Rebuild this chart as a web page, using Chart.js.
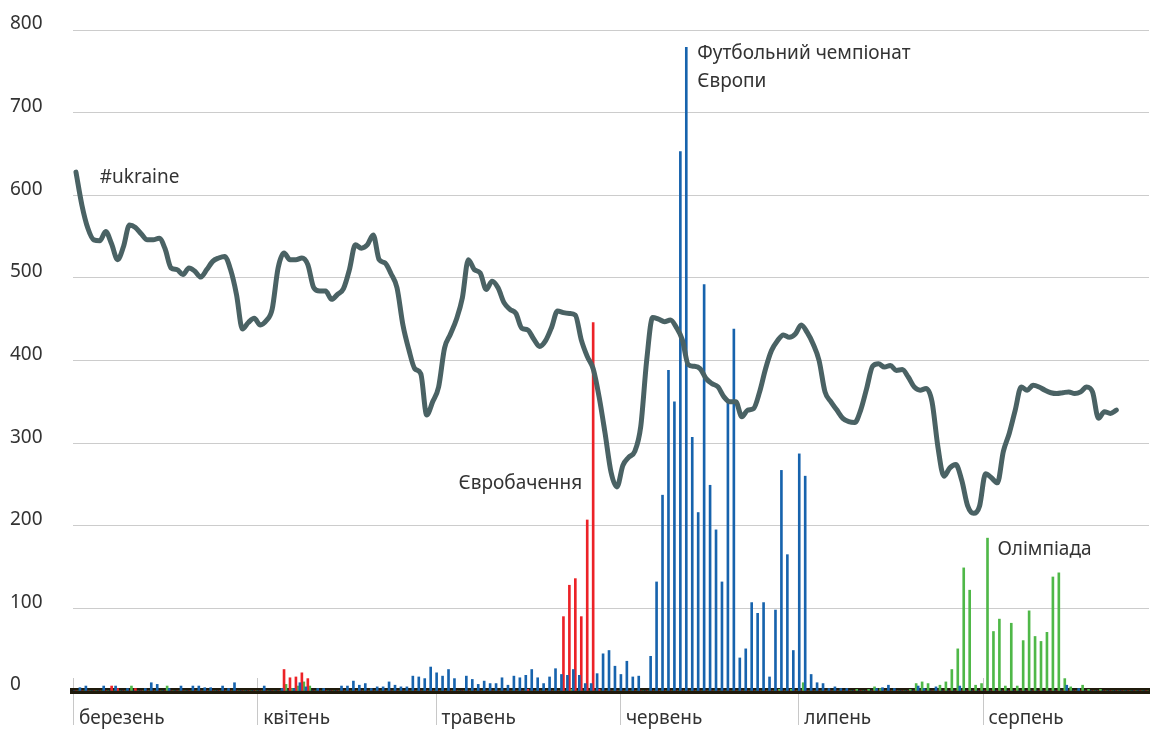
<!DOCTYPE html>
<html>
<head>
<meta charset="utf-8">
<script src="https://cdn.jsdelivr.net/npm/chart.js@4.4.1/dist/chart.umd.min.js"></script>
<style>
    html, body { margin: 0; padding: 0; background: #ffffff; }
    #stat-ukraine { display: block; }
</style>
</head>
<body>
<canvas id="stat-ukraine" width="1150" height="729"></canvas>
<script>
// DATA  -----------------------------------------------------------------------

const monthNames = ['березень', 'квітень', 'травень', 'червень', 'липень', 'серпень'];
const monthDays = [31, 30, 31, 30, 31, 28];
const yTicks = [0, 100, 200, 300, 400, 500, 600, 700, 800];

// daily mentions of #ukraine (smoothed line)
const ukraineLine = [
    628, 588, 560, 546, 545, 556, 541, 522, 538, 564,
    561, 553, 546, 546, 548, 535, 512, 510, 504, 512,
    508, 501, 510, 520, 524, 526, 510, 480, 438, 446,
    451, 443, 448, 462, 512, 530, 522, 522, 524, 516,
    488, 484, 484, 474, 480, 487, 510, 540, 536, 540,
    552, 522, 518, 505, 488, 443, 413, 390, 384, 334,
    350, 368, 415, 432, 450, 476, 522, 510, 506, 486,
    496, 488, 470, 462, 457, 439, 437, 426, 417, 424,
    440, 460, 458, 457, 455, 425, 405, 390, 356, 312,
    265, 247, 273, 283, 290, 320, 400, 452, 450, 447,
    449, 440, 425, 395, 393, 390, 378, 372, 368, 356,
    350, 350, 332, 340, 342, 362, 390, 412, 424, 431,
    428, 432, 443, 434, 420, 400, 362, 350, 340, 330,
    326, 325, 340, 366, 393, 396, 392, 394, 388, 389,
    380, 368, 364, 366, 350, 295, 260, 270, 274, 255,
    224, 215, 224, 263, 258, 252, 290, 312, 340, 368,
    364, 370, 368, 364, 361, 360, 361, 362, 360, 362,
    368, 362, 330, 338, 336, 340, null, null, null, null,
    null
];

// football championship (Euro 2012)
const footballBars = [
    0, 4, 6, 0, 0, 6, 0, 6, 0, 3,
    0, 0, 3, 10, 8, 0, 3, 0, 6, 0,
    6, 6, 4, 4, 0, 6, 3, 10, 0, 0,
    0, 0, 6, 0, 0, 3, 0, 3, 10, 5,
    0, 3, 3, 0, 0, 6, 6, 12, 7, 9,
    3, 5, 5, 11, 7, 5, 5, 18, 17, 15,
    29, 22, 18, 26, 15, 0, 18, 14, 8, 12,
    9, 9, 16, 7, 18, 16, 19, 26, 16, 9,
    17, 27, 20, 19, 26, 19, 9, 9, 21, 45,
    49, 30, 20, 36, 17, 18, 0, 42, 132, 237,
    388, 350, 653, 779, 307, 216, 492, 249, 195, 132,
    350, 438, 40, 51, 107, 94, 107, 17, 98, 267,
    165, 49, 287, 260, 20, 10, 9, 3, 5, 3,
    3, 0, 0, 0, 0, 3, 4, 7, 3, 0,
    0, 0, 6, 3, 0, 5, 0, 0, 0, 6,
    0, 0, 0, 0, 0, 0, 0, 0, 0, 0,
    0, 0, 0, 0, 0, 0, 0, 7, 0, 3,
    0, 0, 0, 0, 0, 0, 0, 0, 0, 0,
    0
];

// Eurovision
const eurovisionBars = [
    0, 0, 0, 0, 0, 0, 6, 3, 0, 0,
    3, 0, 0, 0, 0, 0, 0, 0, 0, 0,
    0, 0, 0, 0, 0, 0, 0, 0, 0, 0,
    0, 0, 0, 0, 0, 26, 16, 17, 22, 15,
    0, 0, 0, 0, 0, 0, 0, 0, 0, 0,
    0, 0, 0, 0, 0, 0, 0, 0, 0, 0,
    0, 0, 0, 0, 0, 0, 0, 0, 0, 0,
    0, 0, 0, 0, 0, 0, 2, 0, 0, 0,
    0, 0, 90, 128, 136, 90, 207, 446, 2, 0,
    0, 0, 0, 0, 0, 0, 0, 0, 0, 0,
    0, 0, 0, 0, 0, 0, 0, 0, 0, 0,
    0, 0, 0, 0, 0, 0, 0, 0, 0, 0,
    0, 0, 0, 0, 0, 0, 0, 0, 0, 0,
    0, 0, 0, 0, 0, 0, 0, 0, 0, 0,
    0, 0, 0, 0, 0, 0, 0, 0, 0, 0,
    0, 0, 0, 0, 0, 0, 0, 0, 0, 0,
    0, 0, 0, 0, 0, 0, 0, 0, 0, 0,
    0, 0, 0, 0, 0, 0, 0, 0, 0, 0,
    0
];

// Olympics
const olympicsBars = [
    0, 0, 0, 0, 0, 0, 0, 0, 0, 6,
    0, 0, 0, 0, 0, 6, 0, 0, 0, 0,
    0, 0, 0, 0, 0, 0, 0, 0, 0, 0,
    0, 0, 0, 0, 0, 8, 3, 6, 11, 6,
    0, 0, 0, 0, 0, 0, 0, 0, 0, 0,
    0, 0, 0, 0, 0, 0, 0, 0, 0, 0,
    0, 0, 0, 0, 0, 0, 0, 0, 0, 0,
    0, 0, 0, 0, 0, 0, 0, 0, 0, 0,
    0, 0, 0, 2, 0, 0, 0, 0, 0, 0,
    0, 0, 0, 0, 0, 0, 0, 0, 0, 0,
    0, 0, 0, 0, 0, 0, 0, 0, 0, 0,
    0, 0, 0, 0, 0, 0, 0, 0, 2, 0,
    2, 0, 10, 0, 0, 0, 0, 0, 0, 0,
    0, 2, 0, 2, 5, 3, 0, 0, 0, 0,
    2, 9, 11, 9, 0, 7, 11, 26, 51, 149,
    122, 7, 9, 185, 72, 87, 6, 82, 6, 61,
    97, 66, 60, 71, 138, 143, 15, 5, 0, 7,
    2, 0, 2, 0, 0, 0, 0, 0, 0, 0,
    0
];

// CHART SCRIPT  -----------------------------------------------------------------------

const textColor = '#333333';
const tickLineColor = '#c8c8c8';
const fontFamily = '"Noto Sans", "DejaVu Sans", sans-serif';

// one label per day, "1 березень" ...
const dayLabels = [];
monthNames.forEach((name, k) => {
    for (let d = 1; d <= monthDays[k]; d++) {
        dayLabels.push(d + ' ' + name);
    }
});

// text notes next to the peaks
const notes = [
    { lines: ['#ukraine'], day: 4, value: 621, dx: 0, align: 'left' },
    { lines: ['Футбольний чемпіонат', 'Європи'], day: 103, value: 772, dx: 9, align: 'left' },
    { lines: ['Євробачення'], day: 87, value: 251, dx: -11, align: 'right' },
    { lines: ['Олімпіада'], day: 153, value: 171, dx: 12, align: 'left' }
];

const notesPlugin = {
    id: 'notes',
    afterDatasetsDraw(chart) {
        const ctx = chart.ctx;
        const x = chart.scales.x;
        const y = chart.scales.y;
        ctx.save();
        ctx.fillStyle = textColor;
        ctx.font = '19px ' + fontFamily;
        ctx.textBaseline = 'middle';
        notes.forEach(note => {
            ctx.textAlign = note.align;
            const px = x.getPixelForValue(note.day) + note.dx;
            const py = y.getPixelForValue(note.value);
            note.lines.forEach((line, k) => ctx.fillText(line, px, py + k * 28));
        });
        ctx.restore();
    }
};

// month tick lines: start a little above the axis and run down past the labels
const monthTickPlugin = {
    id: 'monthTicks',
    beforeDatasetsDraw(chart) {
        const ctx = chart.ctx;
        const x = chart.scales.x;
        const bottom = chart.chartArea.bottom;
        const half = x.width / dayLabels.length / 2;
        ctx.save();
        ctx.strokeStyle = tickLineColor;
        ctx.lineWidth = 1;
        dayLabels.forEach((label, i) => {
            if (label.startsWith('1 ')) {
                const px = Math.round(x.getPixelForValue(i) - half) + 0.5;
                ctx.beginPath();
                ctx.moveTo(px, bottom - 13);
                ctx.lineTo(px, bottom - 3);
                ctx.moveTo(px, bottom + 3);
                ctx.lineTo(px, bottom + 34);
                ctx.stroke();
            }
        });
        ctx.restore();
    }
};

function initializeChart() {
    const canvas = document.getElementById('stat-ukraine');
    const ctx = canvas.getContext('2d');

    new Chart(ctx, {
        type: 'bar',
        data: {
            labels: dayLabels,
            datasets: [
                {
                    type: 'line',
                    label: '#ukraine',
                    data: ukraineLine,
                    borderColor: '#4a6264',
                    borderWidth: 5,
                    pointRadius: 0,
                    cubicInterpolationMode: 'monotone',
                    borderCapStyle: 'round',
                    borderJoinStyle: 'round',
                    order: 0
                },
                {
                    label: 'Футбольний чемпіонат Європи',
                    data: footballBars,
                    backgroundColor: '#1763ad',
                    order: 1
                },
                {
                    label: 'Євробачення',
                    data: eurovisionBars,
                    backgroundColor: '#ec2227',
                    order: 1
                },
                {
                    label: 'Олімпіада',
                    data: olympicsBars,
                    backgroundColor: '#4fb848',
                    order: 1
                }
            ]
        },
        options: {
            responsive: false,
            animation: false,
            layout: {
                padding: { top: 30, left: 10, right: 1, bottom: 0 }
            },
            datasets: {
                bar: {
                    barPercentage: 1,
                    categoryPercentage: 1,
                    borderWidth: 0
                }
            },
            scales: {
                x: {
                    afterFit: scale => { scale.height = 38; },
                    ticks: {
                        autoSkip: false,
                        maxRotation: 0,
                        minRotation: 0,
                        align: 'start',
                        labelOffset: 3,
                        padding: -18,
                        color: textColor,
                        font: { family: fontFamily, size: 19 },
                        callback: function (value) {
                            const label = this.getLabelForValue(value);
                            return label.startsWith('1 ') ? label.slice(2) : null;
                        }
                    },
                    grid: {
                        offset: true,
                        drawOnChartArea: false,
                        drawTicks: true,
                        tickLength: 34,
                        tickColor: 'rgba(0,0,0,0)',
                        color: 'rgba(0,0,0,0)'
                    },
                    border: {
                        display: true,
                        color: '#1f1a0c',
                        width: 6
                    }
                },
                y: {
                    min: 0,
                    max: 800,
                    afterFit: scale => { scale.width = 63; },
                    afterBuildTicks: scale => {
                        scale.ticks = yTicks.map(v => ({ value: v }));
                    },
                    ticks: {
                        crossAlign: 'far',
                        labelOffset: -6,
                        padding: 0,
                        color: textColor,
                        font: { family: fontFamily, size: 19 }
                    },
                    grid: {
                        color: '#cccccc',
                        drawTicks: false
                    },
                    border: { display: false }
                }
            },
            plugins: {
                legend: { display: false },
                tooltip: { enabled: false }
            }
        },
        plugins: [monthTickPlugin, notesPlugin]
    });
}

initializeChart();
</script>
</body>
</html>
